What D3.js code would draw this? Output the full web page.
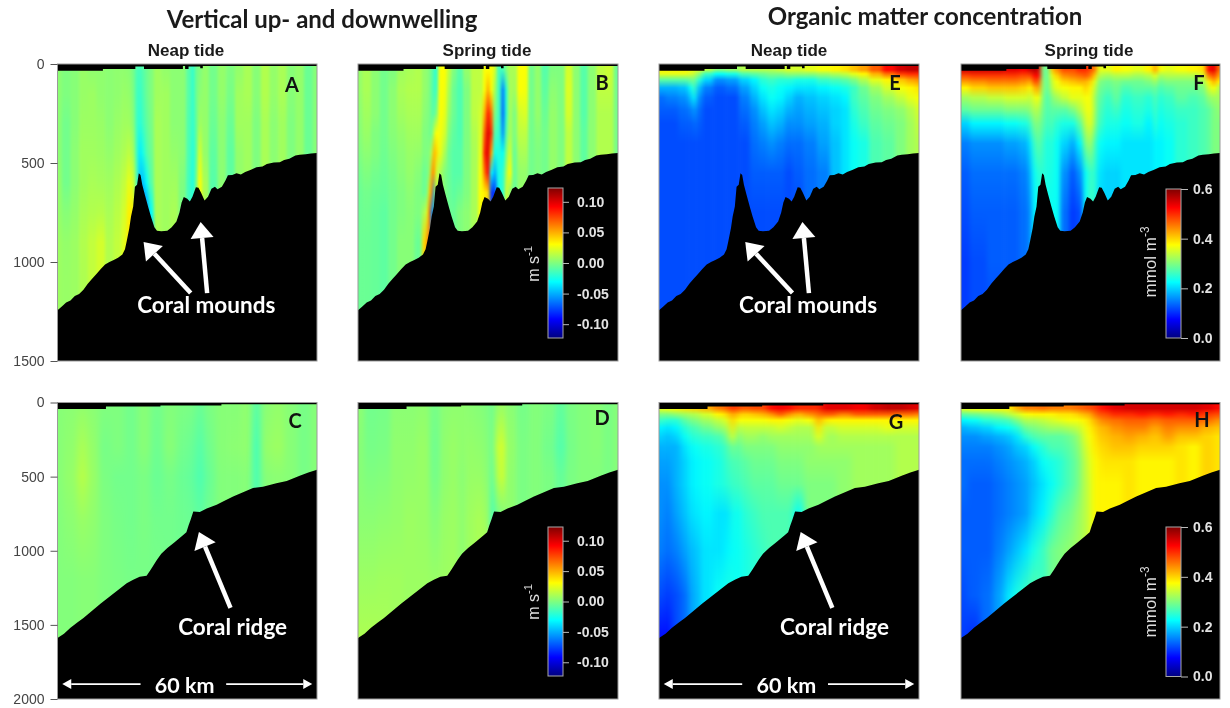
<!DOCTYPE html>
<html>
<head>
<meta charset="utf-8">
<script src="https://cdn.jsdelivr.net/npm/d3@7"></script>
<style>
  html, body { margin: 0; padding: 0; background: #fff; }
  svg { display: block; }
</style>
</head>
<body>
<svg id="chart" width="1230" height="708"></svg>
<script>
// seabed profiles, km along the section and depth in m
const moundKm = [0,1,2,3,4,5,6,7,8,9,10,11,12,13,14,15,15.6,16,16.6,17,17.5,17.9,18.4,18.8,19.2,19.6,20.2,21,21.6,22.4,23,24,25.4,26.4,27.5,28.2,28.7,29.2,30,30.6,31.2,32,32.6,33.2,34,34.8,35.6,36.4,37,38,38.8,39.4,40.4,41.4,42.4,43.4,44.6,46,47.4,48.4,50,51.4,52.4,53.6,55,56,57.4,58.6,60]
const moundDepth = [1244,1225,1205,1195,1172,1162,1140,1110,1085,1060,1035,1012,1000,990,978,962,935,895,830,770,720,620,610,552,560,610,660,725,770,825,842,845,842,825,795,750,700,672,680,695,670,622,625,650,690,670,630,620,632,620,590,562,560,552,558,545,535,522,518,505,498,496,485,478,462,458,456,452,450]
const ridgeKm = [0,1.5,3,4.5,6,8,10,12,14,16,17.5,19,20.6,21.5,23,24,25.4,27,29,29.8,30.3,30.8,31.4,32.9,34.5,36.8,38.5,40.6,42.5,45.2,47.5,50.6,53,56,58,60]
const ridgeDepth = [1589,1560,1520,1485,1454,1405,1355,1310,1265,1220,1195,1175,1168,1130,1061,1020,982,945,895,875,830,790,735,738,715,690,665,634,610,577,568,544,530,494,473,454]

// black no-data strip at the sea surface
const moundSurfaceKm = [0,10.5,18,20,29,29.5,30.3,33,33.6,60]
const moundSurfaceDepth = [34,25,12,25,10,25,12,22,10,10]
const ridgeSurfaceKm = [0,11.2,23.8,37.9,60]
const ridgeSurfaceDepth = [43,27,20,11,11]

// tick labels
const depthTicksTop = [0,500,1000,1500]
const depthTicksBottom = [0,500,1000,1500,2000]
const velocityTicks = [-0.10,-0.05,0.00,0.05,0.10]
const organicTicks = [0.0,0.2,0.4,0.6]

// panel A, vertical velocity in cm/s. One line per station, top to bottom
const kmA = [0,2,4,6,8,10,12,14,15.5,16.5,17.5,18.3,19,19.8,20.6,21.5,23,25,27,29,30.5,31.3,32,32.8,34,36,38,40,42,44,46,48,50,52,54,56,58,60]
const levelsA = [30,150,300,450,600,750,900,1100,1300]
const valuesA = [
  [.3,.3,.3,.3,.5,.5,.7,.7,.7],
  [0,0,-.3,-.3,-.3,.2,.5,.6,.6],
  [.2,.2,.2,.3,.3,.5,.7,.7,.7],
  [.6,.6,.7,.8,.8,1,1.2,1.1],
  [.4,.7,.7,.8,1,1.2,1.6,1.6],
  [.4,.4,.6,.7,.9,1.3,2,2],
  [.3,.3,.3,.5,.8,1,1.2,1.2],
  [.4,.4,.6,.8,1.1,1.4,1.6],
  [.4,.6,.8,1.1,1.6,2,2.4],
  [.3,.5,.8,1.5,2.5,3.4,3.6],
  [-.2,0,.3,1,2,3.5,4],
  [-1.2,-1.4,-1.5,-1.5,-1,0,0],
  [-1.5,-1.8,-2.2,-3.5,-4.5,-6,-6],
  [-1,-1.2,-1.5,-2.5,-4.5,-7],
  [-.5,-.5,-.8,-1.2,-3,-6,-8],
  [0,0,-.2,-.5,-1,-3,-5],
  [.8,.8,1,1,1,1,1],
  [.5,.8,.8,.8,.8,.8,.8],
  [.3,.3,.3,.5,.8,1],
  [.3,.3,.3,.3,0,-.2],
  [-1,-1,-1.2,-1.3,-1.5,-1.5],
  [-2,-2,-2,-2.3,-2.5,-2],
  [-.5,-.5,-.8,-1,-.5],
  [0,.3,.8,2,3],
  [.5,.5,.5,.5,1],
  [-.3,-.3,-.5,-.8,-1],
  [.5,.5,.3,.3,.3],
  [0,-.2,-.5,-.8,-.8],
  [.5,.8,.8,.5],
  [1,1,.8,.8],
  [.2,.2,0,0],
  [1.2,1.2,1,1],
  [.5,.5,.3,.3],
  [1,1,.8],
  [.2,.2,0],
  [.5,.5,.5],
  [-.5,-.5,-.5],
  [.2,.2,.2]
]

// panel B
const kmB = [0,2,4,6,8,10,12,14,15.5,16,16.5,17,17.5,18,19,20,21,22,23.5,25,27,28.5,29.2,30,30.8,31.5,32.5,33.5,34.2,35,36,37.5,38.5,40,41.5,43,45,47,48.5,50.5,52,54,56,58,60]
const levelsB = [30,130,250,350,450,550,650,750,900,1100,1300]
const valuesB = [
  [.5,.5,.3,.2,0,-.3,-.5,-.5,-.5,-.5],
  [1,1,.8,.6,.3,0,-.3,-.4,-.5,-.5],
  [.3,.3,.3,0,0,-.3,-.5,-.6,-.6,-.6],
  [-.3,-.3,-.3,-.3,-.4,-.5,-.6,-.8,-.8],
  [0,.3,.3,.2,0,-.2,-.3,-.3,-.3],
  [.8,1,.8,.5,.3,.2,0,0,.2],
  [1,1.2,1,.8,.6,.5,.3,.2,.2],
  [1.2,1.2,1,.8,.5,.2,0,0,-.5],
  [.5,.5,.3,0,0,-.5,-.5,1,4],
  [.3,.3,0,0,0,-.3,0,2.5,6],
  [0,0,0,-.3,0,.5,4,7,6],
  [-.5,-.8,-.8,-.5,1.5,5,6.5,-6],
  [-1.5,-1.5,-1,1.5,5,6,-5],
  [-2,-1.5,0,3,4,2],
  [3,3,3,2.8,2.5,1],
  [3,2.8,2.5,2,1,0],
  [1.5,1,.5,0,-.5,-.5,-.5,-.5],
  [0,-.5,-.5,-.8,-1,-1,-.8,-.5],
  [-1,-1.2,-1.2,-1.2,-1,-1,-.5,0],
  [.5,0,0,0,0,0,0,.3],
  [1.5,1.5,1.5,1.2,1,1,1,1],
  [1.5,1.5,2,2.2,2.5,2.8,3,3],
  [3,3,5,7,8.5,6.5,3.5],
  [3,5,8.5,10,10,9,4],
  [3,3,6.5,8,5,-3,-8],
  [2,1,0,-1,-2.5,-5,-8],
  [-1.5,-1.5,-1.5,-1.8,-2.2,-2.5],
  [-1.5,-6,-6.5,-5.5,-3,-2],
  [0,-2,-2,-1,0,1,2],
  [1,1,1,1,2,3,.5],
  [1,.8,0,0,-.5,-.5],
  [3,3,2,1.5,1,.5],
  [3,2.8,2.2,1.5,1,.5],
  [-.3,-.3,-.3,-.3,-.3],
  [.5,.5,.5,.2,0],
  [-1,-.8,-.5,-.3],
  [0,.3,.5,.5],
  [0,0,0,0],
  [2,2.2,2,1.5],
  [.3,.3,.3,.3],
  [-1,-1,-1,-.8],
  [.3,.3,.3],
  [1.5,1.5,1.2],
  [1.8,1.5,1.2],
  [-.5,-.3,-.2]
]

// panels C and D, ridge section
const levelsVelocityRidge = [50,300,500,800,1200,1600]
const kmC = [0,3,6,8,11,14,17,20,23,26,29,31,33,35,38,41,44,46,48,51,54,57,60]
const valuesC = [
  [.2,.2,.2,.1,.1,.1],
  [.3,.4,.5,.3,.1,.1],
  [.5,1,1.3,.6,.2],
  [.3,.5,.6,.4,.2],
  [0,-.2,-.1,0,0],
  [0,0,-.3,-.2,-.1],
  [-.3,-.3,-.3,-.3,-.2],
  [.2,.2,-.1,-.1,-.2],
  [-.3,-.4,-.5,-.3,-.2],
  [.1,.2,-.2,-.3,-.3],
  [-.1,-.3,-.5,-.4],
  [-.2,-.5,-.7,-.5],
  [-.6,-1,-1.2,-.8],
  [-.1,-.3,-.5,-.3],
  [.2,.2,.1],
  [.2,.3,.1],
  [.4,.4,.2],
  [-1,-1.4,-1.3],
  [.3,.5,.2],
  [.5,.7,.3],
  [.2,.2,.2],
  [-.2,-.2,-.2],
  [.2,.2]
]
const kmD = [0,3,6,9,12,15,18,20,22,24,26,28,30,31,32,33,35,38,41,44,47,49,52,55,58,60]
const valuesD = [
  [.3,.2,.2,.3,.7,1.1],
  [-.3,-.2,0,.3,.7,1.1],
  [-.2,-.1,.1,.4,.8,1],
  [.3,.4,.4,.5,.8],
  [.3,.4,.5,.7,.7],
  [.4,.6,.6,.6,.7],
  [-.2,-.3,-.2,.2,.6],
  [.3,.4,.4,.6,.7],
  [.4,.6,.6,.7,.8],
  [.4,.4,.3,.4],
  [.3,.5,.6,.8,.8],
  [.2,.4,.6,1],
  [0,.2,.3,.7,1.6],
  [-.4,-.5,-.8,-1.6],
  [.5,1.5,1,-.5],
  [.8,2,1.8,-.2],
  [.3,.5,.4],
  [-.2,-.1,-.1],
  [.1,.1,.1],
  [-.1,-.3,-.1],
  [-.7,-1,-.6],
  [-.1,-.2,-.1],
  [.1,.1,.1],
  [.2,.2,.1],
  [-.1,-.1],
  [.2,.2]
]

// panel E, organic matter in hundredths of mmol m-3
const kmE = [0,3,6,7.5,8.2,9,11,14,17,20,22,24,26,28,30,32,35,38,41,43,45,47,50,53,56,58,60]
const levelsE = [30,50,80,120,170,230,300,400,550,750,1000,1300]
const valuesE = [
  [38,36,28,18,14,13,12,12,12,12,12,12],
  [38,36,28,18,15,13,12,12,12,12,12,12],
  [38,36,28,19,16,14,13,12,12,12,12],
  [37,35,29,23,19,15,13,12,12,12,12],
  [36,34,30,27,23,17,14,12,12,12,12],
  [35,31,25,19,16,14,13,12,12,12,12],
  [33,26,20,15,13,12,12,12,12,12],
  [30,23,16,13,12,12,12,12,12,12],
  [31,24,17,14,12,12,12,12,12,12],
  [33,27,20,17,15,14,13,12,12,12,12],
  [33,28,22,20,18,16,15,14,13,12,12],
  [33,29,25,23,21,19,17,15,13,12,12],
  [33,30,26,24,23,21,19,16,13,12,12],
  [34,30,25,23,22,20,18,15,13,12],
  [35,31,25,22,20,18,16,14,12,12],
  [35,31,24,21,18,17,16,14,13,12],
  [36,31,24,21,19,18,17,15,14],
  [37,32,26,22,20,19,18,17,15],
  [38,33,27,23,21,20,20,19],
  [39,34,28,24,22,21,21,21],
  [41,36,30,26,26,25,24,23],
  [43,38,33,29,28,27,26,24],
  [47,42,36,32,30,29,28,27],
  [52,46,38,35,32,30,29,28],
  [55,49,41,37,34,31,30],
  [56,50,43,38,36,33,32],
  [56,50,44,39,37,35,34,33]
]

// panel F
const kmF = [0,4,8,12,15,16,17,18,19,20,21,22,24,26,27.5,29,30,31,32,34,36,38,41,44,45,46,48,51,54,56,57.5,58.5,60]
const levelsF = [30,60,90,120,170,230,300,400,550,750,1000,1300]
const valuesF = [
  [55,48,43,38,32,28,20,15,13,12,11,11],
  [55,49,44,40,33,29,22,16,14,13,12,12],
  [55,49,45,41,34,29,22,16,14,13,13,12],
  [54,49,45,41,35,30,23,17,14,13,13],
  [53,48,44,40,35,30,24,18,15,14,14],
  [55,48,42,38,34,31,26,21,18,16],
  [57,52,48,42,36,33,30,26,23,22],
  [55,52,47,43,37,33,30,28,25,23],
  [30,30,31,31,30,29,28,26,25,25],
  [28,28,28,28,27,27,26,24,24,23],
  [40,36,34,33,30,28,27,25,24,23],
  [44,40,37,36,32,28,25,23,23,23],
  [48,44,40,37,34,28,24,20,16,14],
  [48,45,41,38,36,30,24,18,13,11],
  [50,46,42,38,36,33,28,22,16,12],
  [50,47,42,40,37,36,34,30,23],
  [48,45,40,38,37,37,36,32,26],
  [45,40,36,34,32,32,31,27,25],
  [36,33,30,29,28,27,26,23,21,20],
  [36,32,29,28,26,25,24,22,20],
  [38,33,30,29,28,26,24,22,20],
  [37,33,29,27,25,24,23,21],
  [36,32,29,28,26,25,24,21],
  [38,33,30,28,25,24,22,21],
  [43,36,32,29,27,26,25,22],
  [37,32,29,27,25,24,23,22],
  [36,33,30,28,26,25,24,23],
  [37,33,30,29,28,26,25,25],
  [38,33,30,29,27,26,26],
  [39,35,32,30,28,27,27],
  [52,45,38,35,31,28,28],
  [54,48,42,37,32,30,30],
  [45,42,38,33,32,31,30,30]
]

// panels G and H, ridge section
const levelsOrganicRidge = [40,80,120,170,230,300,400,550,750,1000,1300,1600]
const kmG = [0,2,4,6,8,11,14,16,17,18,20,22,24,26,28,30,32,35,37,38,40,42,47,50,53,56,58,60]
const valuesG = [
  [36,30,26,22,20,18,17,16,16,15,12,8],
  [37,30,25,21,19,18,17,16,15,14,11,8],
  [38,31,25,22,20,18,18,18,17,15,12],
  [39,32,28,25,23,21,20,20,19,17,14],
  [40,33,30,27,25,23,22,22,21,19,18],
  [42,35,32,29,26,24,23,23,22,21,21],
  [45,38,34,31,27,25,24,24,21,21,23],
  [47,40,36,33,30,27,26,25,21,22,24],
  [50,44,41,39,36,30,27,26,24,23,24],
  [48,41,37,33,30,28,27,26,23,23],
  [47,40,37,34,32,30,28,27,25,24],
  [48,41,37,34,32,30,29,28,26,25],
  [48,42,37,34,31,30,29,28,27,26],
  [52,44,38,34,32,30,29,28,27],
  [53,47,38,35,32,31,30,29,27],
  [52,44,37,34,32,31,30,29,27],
  [50,42,36,33,32,31,30,29,23],
  [50,44,37,33,32,31,31,30],
  [50,46,42,39,36,32,31,30],
  [54,47,39,34,33,32,31,30],
  [54,47,38,34,32,32,31,30],
  [54,45,38,35,33,32,31,31],
  [53,47,38,35,33,32,32],
  [55,47,38,35,33,32,32],
  [56,47,38,36,33,32,32],
  [56,46,38,35,33,33],
  [55,46,38,35,33,33],
  [54,45,38,35,33,33]
]
const kmH = [0,3,6,9,11,13,15,17,19,21,23,25,27,28.5,29.5,30.5,31.5,33,36,39,42,45,48,51,54,57,60]
const valuesH = [
  [36,28,22,18,16,15,14,14,13,13,12,11],
  [37,29,23,19,16,15,14,13,13,13,13,10],
  [37,30,25,20,17,15,14,13,13,13,14],
  [38,31,26,22,18,16,15,14,14,15,17],
  [38,33,27,23,19,17,16,15,15,17,21],
  [42,35,30,25,21,19,17,16,16,19,24],
  [45,37,33,29,25,20,18,17,17,21,26],
  [45,38,33,30,27,23,20,19,20,24,28],
  [46,38,34,31,28,25,23,21,22,26],
  [45,38,35,32,28,27,24,23,25,29],
  [45,39,36,32,28,27,25,25,28,30],
  [45,39,37,33,29,28,27,27,29,31],
  [46,40,37,34,31,30,29,29,31,32],
  [47,42,38,36,35,34,33,33,33],
  [48,42,39,38,37,36,35,34,34],
  [48,44,41,39,38,38,37,37],
  [50,47,43,41,40,39,38,38],
  [52,48,45,42,41,40,39,38],
  [54,50,46,44,42,41,39,38],
  [55,50,47,45,43,41,39],
  [55,51,47,45,42,40,38],
  [55,50,46,43,41,40,38],
  [55,51,47,45,43,40,38],
  [55,50,47,44,41,39],
  [55,51,47,44,41,38],
  [54,49,46,42,40],
  [52,48,44,41,39]
]

//the blue to dark red ramp of the colour bars
const jet = ['#00007f','#0000ff','#007fff','#00ffff','#7fff7f','#ffff00','#ff7f00','#ff0000','#7f0000']
const rampScale = (lo, hi) => d3.scaleLinear()
                                .domain(jet.map((c, i) => lo + (hi - lo) * i / (jet.length - 1)))
                                .range(jet)
const velocityColor = rampScale(-12.26, 12.26)
const organicColor = rampScale(0, 60)

const columns = [[57.5, 317], [358, 618], [659, 919], [961, 1220]]
const rows = [{top: 64, bottom: 361, max: 1500}, {top: 402.5, bottom: 699, max: 2000}]

const panels = [
  {letter: 'A', col: 0, row: 0, km: kmA, levels: levelsA, values: valuesA, color: velocityColor, smear: 1.5, lx: 292, ly: 87},
  {letter: 'B', col: 1, row: 0, km: kmB, levels: levelsB, values: valuesB, color: velocityColor, smear: 1.5, lx: 602, ly: 85},
  {letter: 'C', col: 0, row: 1, km: kmC, levels: levelsVelocityRidge, values: valuesC, color: velocityColor, smear: 3, lx: 295, ly: 423},
  {letter: 'D', col: 1, row: 1, km: kmD, levels: levelsVelocityRidge, values: valuesD, color: velocityColor, smear: 2.5, lx: 602, ly: 420},
  {letter: 'E', col: 2, row: 0, km: kmE, levels: levelsE, values: valuesE, color: organicColor, smear: 2.2, lx: 895, ly: 85},
  {letter: 'F', col: 3, row: 0, km: kmF, levels: levelsF, values: valuesF, color: organicColor, smear: 2, lx: 1199, ly: 85},
  {letter: 'G', col: 2, row: 1, km: kmG, levels: levelsOrganicRidge, values: valuesG, color: organicColor, smear: 3, lx: 896, ly: 424},
  {letter: 'H', col: 3, row: 1, km: kmH, levels: levelsOrganicRidge, values: valuesH, color: organicColor, smear: 3, lx: 1202, ly: 422}
]

const svg = d3.select('#chart')
const defs = svg.append('defs')

// slightly soft, the reference is a scaled screenshot
defs.append('filter').attr('id', 'soft')
    .attr('filterUnits', 'userSpaceOnUse')
    .attr('x', 0).attr('y', 0).attr('width', 1230).attr('height', 708)
    .attr('color-interpolation-filters', 'sRGB')
    .append('feGaussianBlur').attr('stdDeviation', 0.45)

const root = svg.append('g').attr('filter', 'url(#soft)')
root.append('rect').attr('width', 1230).attr('height', 708).attr('fill', '#fff')

const panelScales = p => ({
  x: d3.scaleLinear().domain([0, 60]).range(columns[p.col]),
  y: d3.scaleLinear().domain([0, rows[p.row].max]).range([rows[p.row].top, rows[p.row].bottom])
})

//one rect per station, coloured down the water column with a gradient
const drawField = (g, p, x, y) => {
  const edges = p.km.map((k, i) => i === 0 ? -3 : (p.km[i - 1] + k) / 2)
  edges.push(63)

  const field = g.append('g').attr('filter', `url(#smear${p.letter})`)

  p.values.forEach((column, i) => {
    const yTop = y(p.levels[0])
    const yEnd = y(p.levels[column.length - 1])
    const id = `st${p.letter}${i}`
    const grad = defs.append('linearGradient')
                     .attr('id', id)
                     .attr('gradientUnits', 'userSpaceOnUse')
                     .attr('x1', 0).attr('x2', 0)
                     .attr('y1', yTop).attr('y2', yEnd)
    grad.selectAll('stop')
        .data(column)
        .join('stop')
        .attr('offset', (v, j) => (y(p.levels[j]) - yTop) / (yEnd - yTop))
        .attr('stop-color', v => p.color(v))

    field.append('rect')
         .attr('x', x(edges[i]))
         .attr('width', x(edges[i + 1]) - x(edges[i]) + 0.6)
         .attr('y', y(0))
         .attr('height', y.range()[1] - y(0))
         .attr('fill', `url(#${id})`)
  })
}

panels.forEach(p => {
  const {x, y} = panelScales(p)
  const [x0, x1] = x.range()
  const [y0, y1] = y.range()
  const isMound = p.row === 0

  defs.append('clipPath').attr('id', `clip${p.letter}`)
      .append('rect').attr('x', x0).attr('y', y0).attr('width', x1 - x0).attr('height', y1 - y0)

  defs.append('filter').attr('id', `smear${p.letter}`)
      .attr('filterUnits', 'userSpaceOnUse')
      .attr('x', x0 - 20).attr('y', y0 - 5).attr('width', x1 - x0 + 40).attr('height', y1 - y0 + 10)
      .attr('color-interpolation-filters', 'sRGB')
      .append('feGaussianBlur').attr('stdDeviation', `${p.smear} 0.5`)

  const g = root.append('g').attr('clip-path', `url(#clip${p.letter})`)
  drawField(g, p, x, y)

  // seabed
  const bedKm = isMound ? moundKm : ridgeKm
  const bedDepth = isMound ? moundDepth : ridgeDepth
  const bedArea = d3.area()
                    .x((d, i) => x(bedKm[i]))
                    .y0(y1 + 2)
                    .y1(d => y(d))
  g.append('path').attr('d', bedArea(bedDepth)).attr('fill', '#000')

  // surface strip
  const surfKm = isMound ? moundSurfaceKm : ridgeSurfaceKm
  const surfDepth = isMound ? moundSurfaceDepth : ridgeSurfaceDepth
  const surfArea = d3.area()
                     .curve(d3.curveStepAfter)
                     .x((d, i) => x(surfKm[i]))
                     .y0(y0 - 2)
                     .y1(d => y(d))
  g.append('path').attr('d', surfArea(surfDepth)).attr('fill', '#000')

  root.append('rect')
      .attr('x', x0).attr('y', y0).attr('width', x1 - x0).attr('height', y1 - y0)
      .attr('fill', 'none').attr('stroke', '#9a9a9a').attr('stroke-width', 1)

  root.append('text')
      .attr('x', p.lx).attr('y', p.ly)
      .attr('text-anchor', 'middle').attr('dominant-baseline', 'middle')
      .attr('font-family', 'Lato').attr('font-weight', 700).attr('font-size', 20)
      .attr('fill', '#111')
      .text(p.letter)

  // depth axis only on the left hand column
  if (p.col === 0) {
    const axis = d3.axisLeft(y)
                   .tickValues(isMound ? depthTicksTop : depthTicksBottom)
                   .tickFormat(d3.format('d'))
                   .tickSize(7)
                   .tickPadding(6)
    const ag = root.append('g').attr('transform', `translate(${x0},0)`).call(axis)
    ag.select('.domain').remove()
    ag.selectAll('line').attr('stroke', '#555')
    ag.selectAll('text').attr('fill', '#444').attr('font-family', 'Liberation Sans').attr('font-size', 14)
  }
})

// white arrows and labels, placed in km and depth
const mark = (g, x, y, from, to, head, width, wingFactor) => {
  const x1 = x(from[0]), y1 = y(from[1]), x2 = x(to[0]), y2 = y(to[1])
  const a = Math.atan2(y2 - y1, x2 - x1)
  const bx = x2 - Math.cos(a) * head, by = y2 - Math.sin(a) * head
  g.append('line').attr('x1', x1).attr('y1', y1).attr('x2', bx).attr('y2', by)
   .attr('stroke', '#fff').attr('stroke-width', width)
  const wing = head * wingFactor
  const pts = [[x2, y2],
               [bx + Math.sin(a) * wing, by - Math.cos(a) * wing],
               [bx - Math.sin(a) * wing, by + Math.cos(a) * wing]]
  g.append('polygon').attr('points', pts.join(' ')).attr('fill', '#fff')
}

const label = (g, x, y, pos, text, size) => {
  g.append('text')
   .attr('x', x(pos[0])).attr('y', y(pos[1]))
   .attr('text-anchor', 'middle').attr('dominant-baseline', 'middle')
   .attr('font-family', 'Lato').attr('font-weight', 700).attr('font-size', size)
   .attr('fill', '#fff')
   .text(text)
}

const moundArrows = [[[30.8, 1157], [19.9, 899]], [[34.6, 1157], [33.1, 798]]]
const ridgeArrow = [[40, 1386], [32.7, 873]]
const spanArrows = [[[19.2, 1899], [1.1, 1899]], [[39, 1899], [58.9, 1899]]]

panels.filter(p => p.letter === 'A' || p.letter === 'E').forEach(p => {
  const {x, y} = panelScales(p)
  moundArrows.forEach(a => mark(root, x, y, a[0], a[1], 16, 4.5, 0.72))
  label(root, x, y, [34.4, 1227], 'Coral mounds', 22.5)
})
panels.filter(p => p.letter === 'C' || p.letter === 'G').forEach(p => {
  const {x, y} = panelScales(p)
  mark(root, x, y, ridgeArrow[0], ridgeArrow[1], 16, 4.5, 0.72)
  label(root, x, y, [40.5, 1530], 'Coral ridge', 22.5)
  spanArrows.forEach(a => mark(root, x, y, a[0], a[1], 9, 1.8, 0.55))
  label(root, x, y, [29.4, 1925], '60 km', 21.5)
})

// colour bars
const bars = [
  {id: 'barB', x: 548, top: 188, bottom: 338, domain: [-0.1226, 0.1226], ticks: velocityTicks, fmt: '.2f', tick: 6, pad: 8, unit: 'm s', sup: '-1', size: 16, ux: 535, uy: 264},
  {id: 'barD', x: 548, top: 527, bottom: 676, domain: [-0.1226, 0.1226], ticks: velocityTicks, fmt: '.2f', tick: 6, pad: 8, unit: 'm s', sup: '-1', size: 16, ux: 535, uy: 602},
  {id: 'barF', x: 1166, top: 189, bottom: 338, domain: [0, 0.6], ticks: organicTicks, fmt: '.1f', tick: 7, pad: 5, unit: 'mmol m', sup: '-3', size: 17, ux: 1152, uy: 262},
  {id: 'barH', x: 1166, top: 527, bottom: 676.5, domain: [0, 0.6], ticks: organicTicks, fmt: '.1f', tick: 7, pad: 5, unit: 'mmol m', sup: '-3', size: 17, ux: 1152, uy: 602}
]

const barGradient = defs.append('linearGradient').attr('id', 'jetRamp')
                        .attr('x1', 0).attr('x2', 0).attr('y1', 1).attr('y2', 0)
barGradient.selectAll('stop')
           .data(jet)
           .join('stop')
           .attr('offset', (c, i) => i / (jet.length - 1))
           .attr('stop-color', c => c)

bars.forEach(b => {
  const scale = d3.scaleLinear().domain(b.domain).range([b.bottom, b.top])
  root.append('rect')
      .attr('x', b.x).attr('y', b.top).attr('width', 15).attr('height', b.bottom - b.top)
      .attr('fill', 'url(#jetRamp)').attr('stroke', '#a8a8a8').attr('stroke-width', 1)

  const format = d3.format(b.fmt)
  const axis = d3.axisRight(scale)
                 .tickValues(b.ticks)
                 .tickSize(b.tick)
                 .tickPadding(b.pad)
                 .tickFormat(d => format(d).replace('\u2212', '-'))
  const ag = root.append('g').attr('transform', `translate(${b.x + 15},0)`).call(axis)
  ag.select('.domain').remove()
  ag.selectAll('line').attr('stroke', '#bbb')
  ag.selectAll('text')
    .attr('fill', '#e2e2e2').attr('font-family', 'Liberation Sans').attr('font-weight', 700).attr('font-size', 14)

  const unit = root.append('text')
                   .attr('transform', `translate(${b.ux},${b.uy}) rotate(-90)`)
                   .attr('text-anchor', 'middle')
                   .attr('dominant-baseline', 'middle')
                   .attr('font-family', 'Liberation Sans').attr('font-size', b.size)
                   .attr('fill', '#ddd')
  unit.append('tspan').text(b.unit)
  unit.append('tspan').attr('dy', -6).attr('font-size', b.size * 0.7).text(b.sup)
})

// headings
const headings = [
  {text: 'Vertical up- and downwelling', x: 322, y: 22, size: 24, font: 'Lato', weight: 700},
  {text: 'Organic matter concentration', x: 925, y: 19, size: 24, font: 'Lato', weight: 700},
  {text: 'Neap tide', x: 186, y: 52, size: 17, font: 'Liberation Sans', weight: 700},
  {text: 'Spring tide', x: 487, y: 52, size: 17, font: 'Liberation Sans', weight: 700},
  {text: 'Neap tide', x: 789, y: 52, size: 17, font: 'Liberation Sans', weight: 700},
  {text: 'Spring tide', x: 1089, y: 52, size: 17, font: 'Liberation Sans', weight: 700}
]
root.selectAll('.heading')
    .data(headings)
    .join('text')
    .attr('class', 'heading')
    .attr('x', d => d.x).attr('y', d => d.y)
    .attr('text-anchor', 'middle').attr('dominant-baseline', 'middle')
    .attr('font-family', d => d.font).attr('font-weight', d => d.weight).attr('font-size', d => d.size)
    .attr('fill', '#1a1a1a')
    .text(d => d.text)
</script>
</body>
</html>
